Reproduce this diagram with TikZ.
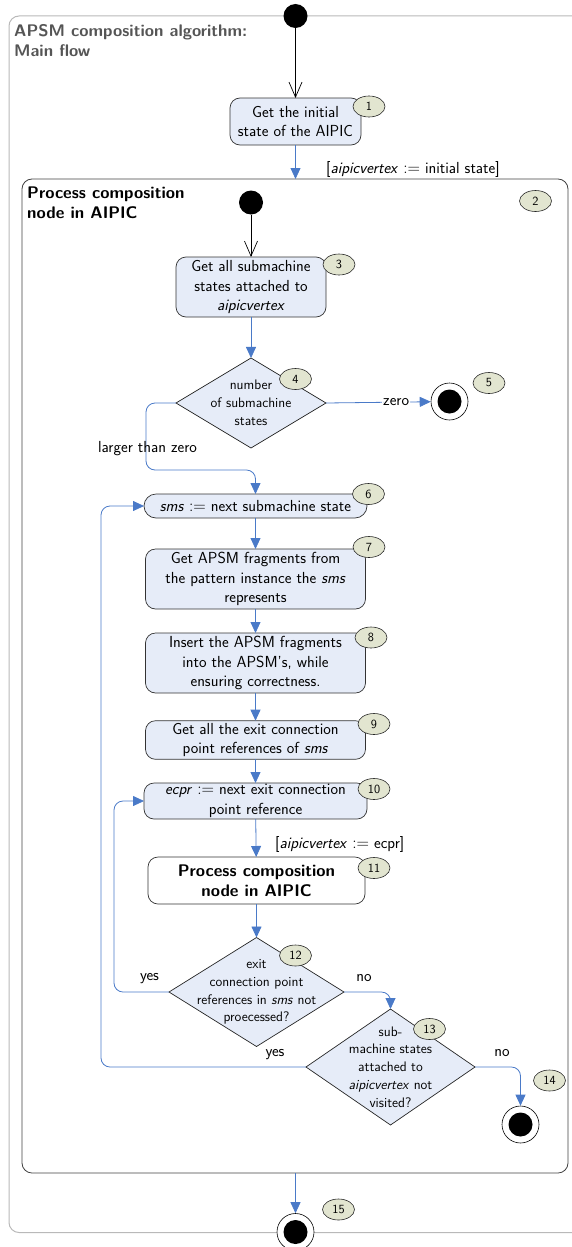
\documentclass[tikz,border=0pt]{standalone}
\usepackage{fontspec}
\usetikzlibrary{arrows.meta,shapes.geometric}
\definecolor{actfill}{RGB}{230,236,248}
\definecolor{badgefill}{RGB}{226,229,208}
\definecolor{flowblue}{RGB}{74,122,200}
\definecolor{framegray}{RGB}{185,185,185}
\definecolor{titlegray}{RGB}{85,85,85}
\begin{document}
\begin{tikzpicture}[x=1pt,y=-1pt,
  txt/.style={font=\sffamily\fontsize{16}{19.7}\selectfont},
  action/.style={draw=black!80, fill=actfill, rounded corners=10pt, line width=0.7pt,
    align=center, inner sep=0pt, outer sep=0pt, txt},
  plain/.style={action, fill=white},
  decision/.style={diamond, draw=black!85, fill=actfill, line width=0.7pt,
    inner sep=0pt, outer sep=0pt},
  dtext/.style={align=center, font=\sffamily\fontsize{13.8}{17.8}\selectfont},
  badge/.style={ellipse, draw=black!85, fill=badgefill, line width=0.6pt,
    minimum width=32pt, minimum height=21pt, inner sep=0pt,
    font=\sffamily\fontsize{12.5}{12}\selectfont},
  start/.style={circle, fill=black, minimum size=24pt, inner sep=0pt},
  final/.style={circle, draw=black, fill=white, line width=0.6pt, minimum size=37pt,
    inner sep=0pt, path picture={\fill[black] (path picture bounding box.center) circle (12pt);}},
  flow/.style={draw=flowblue, line width=0.8pt, rounded corners=9pt,
    -{Triangle[length=11pt,width=10pt]}},
  initflow/.style={draw=black, line width=0.7pt, -{Straight Barb[length=15pt,width=13pt]}},
  lbl/.style={txt, inner sep=1pt},
  frametitle/.style={anchor=north west, align=left, inner sep=0pt,
    font=\sffamily\bfseries\fontsize{16.8}{20}\selectfont}
]
\useasboundingbox (0,0) rectangle (571,1247);

% outer activity frame (runs past the right edge)
\draw[framegray, line width=1pt, rounded corners=10pt] (600,16) -- (9,16) -- (9,1232.5) -- (600,1232.5);
\node[frametitle, text=titlegray] (maintitle) at (14,24) {APSM composition algorithm:\\Main flow};

% inner composite activity
\node[draw=black!75, line width=0.8pt, rounded corners=10pt, minimum width=546pt,
  minimum height=994pt, inner sep=0pt, outer sep=0pt] (inner) at (295,676) {};
\node[frametitle, text=black] (innertitle) at (27,186.5) {Process composition\\node in AIPIC};

% main flow
\node[start] (s0) at (295.5,16) {};
\node[action, minimum width=131pt, minimum height=47pt] (n1) at (295.5,121.5)
  {Get the initial\\state of the AIPIC};
\node[final] (f15) at (295.5,1232) {};

% inside the composite
\node[start] (s1) at (251,202.5) {};
\node[action, minimum width=150pt, minimum height=60pt] (n3) at (251,287)
  {Get all submachine\\states attached to\\\textit{aipicvertex}};
\node[decision, minimum width=150pt, minimum height=90pt,
  label={[dtext]center:{number\\of submachine\\states}}] (d4) at (251,403) {};
\node[final] (f5) at (449.5,401.5) {};

\node[action, rounded corners=12pt, minimum width=223pt, minimum height=24pt] (n6) at (255.5,506)
  {\textit{sms} $:=$ next submachine state};
\node[action, minimum width=220pt, minimum height=60pt] (n7) at (255.5,579)
  {Get APSM fragments from\\the pattern instance the \textit{sms}\\represents};
\node[action, minimum width=220pt, minimum height=60pt] (n8) at (255.5,663)
  {Insert the APSM fragments\\into the APSM's, while\\ensuring correctness.};
\node[action, minimum width=220pt, minimum height=38.6pt] (n9) at (255.5,740)
  {Get all the exit connection\\point references of \textit{sms}};
\node[action, minimum width=223pt, minimum height=36pt] (n10) at (255.5,801)
  {\textit{ecpr} $:=$ next exit connection\\point reference};
\node[plain, minimum width=217pt, minimum height=47pt, font=\sffamily\bfseries\fontsize{16.8}{19.7}\selectfont]
  (n11) at (256.5,880.5) {Process composition\\node in AIPIC};
\node[decision, minimum width=175pt, minimum height=109pt,
  label={[dtext]center:{exit\\connection point\\references in \textit{sms} not\\proecessed?}}] (d12) at (256.5,992) {};
\node[decision, minimum width=169pt, minimum height=116pt,
  label={[dtext]center:{sub-\\machine states\\attached to\\\textit{aipicvertex} not\\visited?}}] (d13) at (390.5,1067) {};
\node[final] (f14) at (520.5,1124.5) {};

% step numbers
\node[badge] (b1) at (369,106.5) {1};
\node[badge] (b2) at (535.5,201) {2};
\node[badge] (b3) at (339,264.5) {3};
\node[badge] (b4) at (295.5,379) {4};
\node[badge] (b5) at (489,383) {5};
\node[badge] (b6) at (368.5,494) {6};
\node[badge] (b7) at (369,547) {7};
\node[badge] (b8) at (371,637.5) {8};
\node[badge] (b9) at (374,724) {9};
\node[badge] (b10) at (374,789) {10};
\node[badge] (b11) at (374,868) {11};
\node[badge] (b12) at (295.5,955.5) {12};
\node[badge] (b13) at (429.5,1029) {13};
\node[badge] (b14) at (549.5,1080.5) {14};
\node[badge] (b15) at (338.5,1209.5) {15};

% connectors
\draw[initflow] (s0) -- (n1);
\draw[flow] (n1) -- (n1.south |- inner.north);
\node[lbl, anchor=west] (g1) at (325,169) {[\textit{aipicvertex} $:=$ initial state]};
\draw[initflow] (s1) -- (n3);
\draw[flow] (n3) -- (d4);
\draw[flow] (d4.east) -- node[lbl, pos=0.67, fill=white] (zero) {zero} (f5);
\draw[flow] (d4.west) -| (146,470) -| (n6.north);
\node[lbl] (gt0) at (147.5,449) {larger than zero};
\draw[flow] (n6) -- (n7);
\draw[flow] (n7) -- (n8);
\draw[flow] (n8) -- (n9);
\draw[flow] (n9) -- (n10);
\draw[flow] (n10) -- (n11);
\node[lbl, anchor=west] (g2) at (274,844) {[\textit{aipicvertex} $:=$ ecpr]};
\draw[flow] (n11) -- (d12);
\draw[flow] (d12.west) -| ([xshift=-30pt]n10.west) -- (n10.west);
\node[lbl] (yes1) at (149.5,979) {yes};
\draw[flow] (d12.east) -| (d13.north);
\node[lbl] (no1) at (364,978) {no};
\draw[flow] (d13.west) -| ([xshift=-43pt]n6.west) -- (n6.west);
\node[lbl] (yes2) at (275,1055) {yes};
\draw[flow] (d13.east) -| (f14);
\node[lbl] (no2) at (502,1053) {no};
\draw[flow] (inner.south -| f15) -- (f15);
\end{tikzpicture}
\end{document}
